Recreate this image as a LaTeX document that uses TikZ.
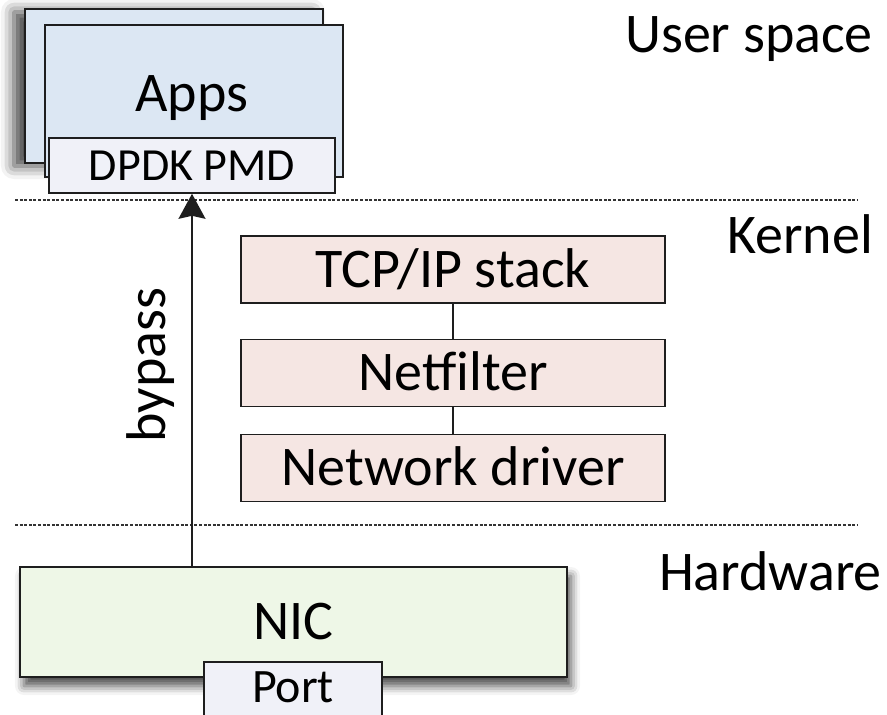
\documentclass[tikz,border=0pt]{standalone}
\usepackage{fontspec}
\setmainfont{Carlito}
\usetikzlibrary{arrows.meta,shadows.blur}

\definecolor{appsblue}{RGB}{220,231,243}
\definecolor{pmdgray}{RGB}{240,241,248}
\definecolor{kernpink}{RGB}{245,230,227}
\definecolor{nicgreen}{RGB}{238,247,231}
\definecolor{edgecol}{RGB}{30,30,30}

\tikzset{
  bigfont/.style={font=\fontsize{56}{62}\selectfont},
  box/.style={draw=edgecol, line width=1.6pt, inner sep=0pt,
    text height=35pt, text depth=0pt, bigfont},
  kbox/.style={box, fill=kernpink, minimum width=424pt, minimum height=67pt},
  sepline/.style={draw=black!80, line width=1.2pt, dash pattern=on 3pt off 1.6pt},
  link/.style={draw=edgecol, line width=1.5pt},
  lbl/.style={bigfont, inner sep=0pt},
}

\begin{document}
\begin{tikzpicture}[x=1pt, y=-1pt]
\path[use as bounding box] (0,0) rectangle (887,715);
\clip (0,0) rectangle (887,715);

% user space: stacked application windows with the poll-mode driver
\node[box, fill=appsblue, minimum width=298pt, minimum height=154pt,
      blur shadow={shadow xshift=-11pt, shadow yshift=-3pt,
                   shadow blur radius=13pt, shadow opacity=75}]
      (appsback) at (174,86) {};
\node[box, fill=appsblue, minimum width=298pt, minimum height=152pt]
      (appsfront) at (194,101) {};
\node[lbl, anchor=base] (appstext) at (192,111) {Apps};
\node[box, fill=pmdgray, minimum width=286pt, minimum height=55pt,
      font=\fontsize{46}{52}\selectfont, text height=29pt]
      (pmd) at (192,165.5) {DPDK PMD};

% layer separators
\coordinate (sepA1) at (15,200);  \coordinate (sepA2) at (858,200);
\coordinate (sepB1) at (15,525);  \coordinate (sepB2) at (858,525);
\path[sepline] (sepA1) -- (sepA2);
\path[sepline] (sepB1) -- (sepB2);

% kernel network stack
\node[kbox] (tcp)    at (453,269.5) {TCP/IP stack};
\node[kbox] (nf)     at (453,373)   {Netfilter};
\node[kbox] (driver) at (453,468)   {Network driver};
\path[link] (tcp.south) -- (nf.north);
\path[link] (nf.south) -- (driver.north);

% hardware
\node[box, fill=nicgreen, minimum width=547pt, minimum height=110pt,
      blur shadow={shadow xshift=4pt, shadow yshift=-9pt,
                   shadow blur radius=9pt, shadow opacity=70}]
      (nic) at (293.5,622) {NIC};
% the port runs off the lower edge, so only three sides are outlined
\node[box, draw=none, fill=pmdgray, minimum width=176pt, minimum height=52pt,
      font=\fontsize{48}{54}\selectfont, text height=32pt, text depth=5pt]
      (port) at (293,689) {Port};
\path[link, line width=1.6pt]
      (port.south west) -- (port.north west) -- (port.north east) -- (port.south east);

% kernel bypass path
\path[link, -{Stealth[length=25pt, width=27pt, inset=3pt]}]
      (pmd.south |- nic.north) -- (pmd.south);
\node[lbl, rotate=90, anchor=base] (bypass) at (165,365) {bypass};

% layer names
\node[lbl, anchor=base east] (userspace) at (873,52)  {User space};
\node[lbl, anchor=base east] (kernel)    at (873,253) {Kernel};
\node[lbl, anchor=base east] (hardware)  at (882,590) {Hardware};
\end{tikzpicture}
\end{document}
